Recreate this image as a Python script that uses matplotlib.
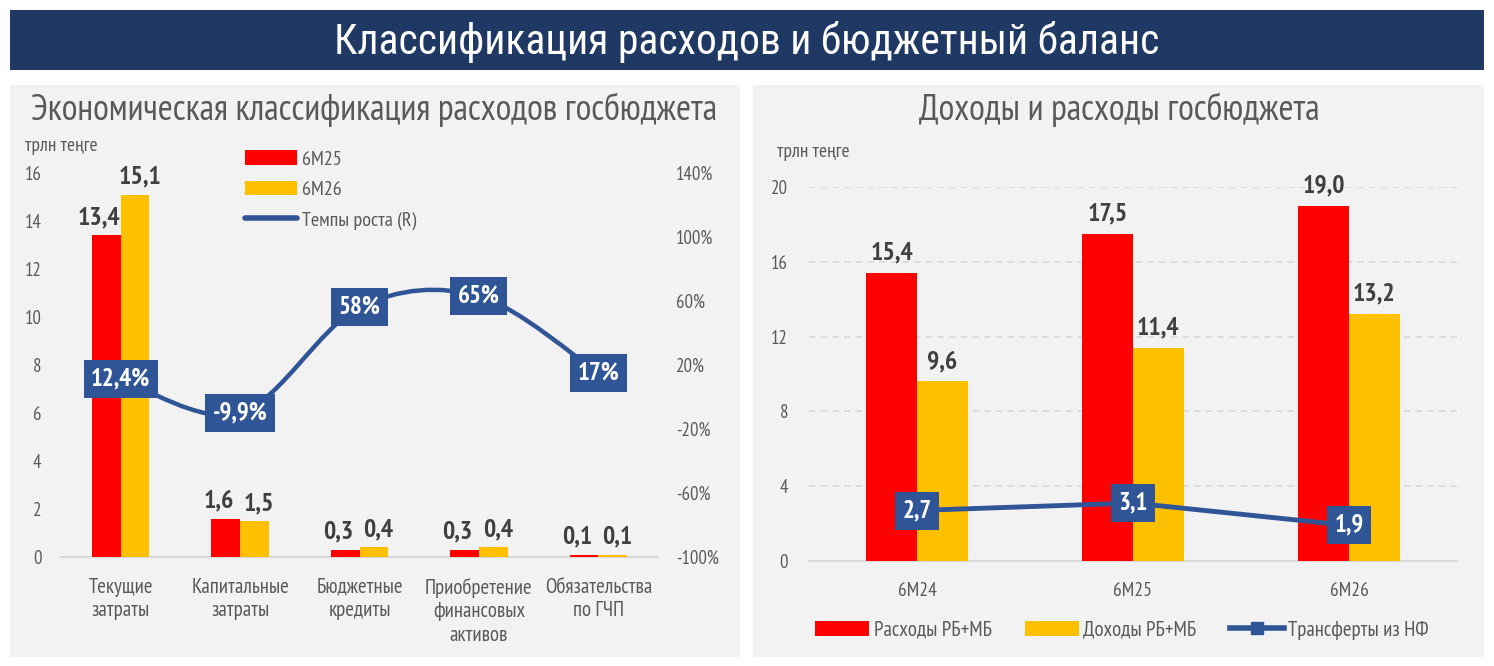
import numpy as np
import matplotlib
matplotlib.use("Agg")
import matplotlib.pyplot as plt
from matplotlib.patches import Rectangle, Patch, PathPatch
from matplotlib.lines import Line2D
from matplotlib.path import Path

plt.rcParams['font.family'] = ['PT Sans Narrow', 'DejaVu Sans']

# left chart data
cats_left = ['Текущие\nзатраты', 'Капитальные\nзатраты', 'Бюджетные\nкредиты',
             'Приобретение\nфинансовых\nактивов', 'Обязательства\nпо ГЧП']
vals_6m25 = [13.4, 1.6, 0.3, 0.3, 0.1]
vals_6m26 = [15.1, 1.5, 0.4, 0.4, 0.1]
growth_labels = ['12,4%', '-9,9%', '58%', '65%', '17%']
growth_pos = [11.2, -10.0, 56.0, 63.0, 15.0]   # where the labelled points sit on the right axis

# right chart data
cats_right = ['6М24', '6М25', '6М26']
expenses = [15.4, 17.5, 19.0]
revenues = [9.6, 11.4, 13.2]
transfers = [2.7, 3.1, 1.9]

RED = '#FF0000'
YEL = '#FFC000'
BLUE = '#2F5597'
NAVY = '#203864'
GRAY_TXT = '#595959'
DARK_TXT = '#404040'
PANEL = '#F2F2F2'

W, H = 1494, 666
fig = plt.figure(figsize=(W / 100, H / 100), dpi=100)
fig.patch.set_facecolor('white')


def px(x0, y0, x1, y1):
    return [x0 / W, 1 - y1 / H, (x1 - x0) / W, (y1 - y0) / H]


def fmt(v):
    return ('%.1f' % v).replace('.', ',')


# background blocks
for (x0, y0, w, h, c) in [(10, 10, 1474, 60, NAVY), (10, 85, 730, 572, PANEL), (753, 85, 731, 572, PANEL)]:
    fig.patches.append(Rectangle((x0 / W, 1 - (y0 + h) / H), w / W, h / H, transform=fig.transFigure,
                                 facecolor=c, edgecolor='none', zorder=-5))

fig.text(747 / W, 1 - 42 / H, 'Классификация расходов и бюджетный баланс', color='white',
         fontsize=30, ha='center', va='center', family=['Roboto Condensed', 'DejaVu Sans'])
fig.text(374 / W, 1 - 110 / H, 'Экономическая классификация расходов госбюджета', color=GRAY_TXT,
         fontsize=26, ha='center', va='center')
fig.text(1119 / W, 1 - 110 / H, 'Доходы и расходы госбюджета', color=GRAY_TXT,
         fontsize=26, ha='center', va='center')
fig.text(25 / W, 1 - 146 / H, 'трлн теңге', color=GRAY_TXT, fontsize=14, ha='left', va='center')
fig.text(777 / W, 1 - 152 / H, 'трлн теңге', color=GRAY_TXT, fontsize=14, ha='left', va='center')

# ---------- left chart ----------
ax = fig.add_axes(px(61, 173, 658, 557))
ax.set_facecolor('none')
x = np.arange(len(cats_left))
bw = 0.24
ax.bar(x - bw / 2, vals_6m25, bw, color=RED, zorder=3)
ax.bar(x + bw / 2, vals_6m26, bw, color=YEL, zorder=3)
for i in range(len(x)):
    ax.text(x[i] - bw / 2 - 0.06, vals_6m25[i] + 0.25, fmt(vals_6m25[i]), ha='center', va='bottom',
            fontsize=18.5, fontweight='bold', color=DARK_TXT)
    ax.text(x[i] + bw / 2 + 0.04, vals_6m26[i] + 0.25, fmt(vals_6m26[i]), ha='center', va='bottom',
            fontsize=18.5, fontweight='bold', color=DARK_TXT)
ax.set_xlim(-0.5, len(x) - 0.5)
ax.set_ylim(0, 16)
ax.set_yticks(range(0, 17, 2))
ax.set_xticks(x)
ax.set_xticklabels(cats_left, fontsize=15, color=GRAY_TXT, linespacing=1.3, va='top')
ax.tick_params(axis='both', length=0, labelsize=13.5, colors=GRAY_TXT)
ax.tick_params(axis='x', pad=15, labelsize=15)
ax.tick_params(axis='y', pad=14)
for s in ['top', 'right', 'left']:
    ax.spines[s].set_visible(False)
ax.spines['bottom'].set_color('#D9D9D9')
ax.spines['bottom'].set_linewidth(1.5)
ax.spines['bottom'].set_zorder(1)

ax2 = ax.twinx()
ax2.set_ylim(-100, 140)
ax2.set_yticks(range(-100, 141, 40))
ax2.set_yticklabels(['%d%%' % t for t in range(-100, 141, 40)])
ax2.tick_params(axis='y', length=0, labelsize=13.5, colors=GRAY_TXT, pad=13)
for s in ax2.spines.values():
    s.set_visible(False)

# smoothed growth line (Catmull-Rom bezier through the points)
pts = np.column_stack([x, growth_pos]).astype(float)
ext = np.vstack([pts[0], pts, pts[-1]])
verts = [tuple(pts[0])]
codes = [Path.MOVETO]
for i in range(len(pts) - 1):
    p0, p1, p2, p3 = ext[i], ext[i + 1], ext[i + 2], ext[i + 3]
    verts += [tuple(p1 + (p2 - p0) / 6), tuple(p2 - (p3 - p1) / 6), tuple(p2)]
    codes += [Path.CURVE4] * 3
ax2.add_patch(PathPatch(Path(verts, codes), facecolor='none', edgecolor=BLUE, lw=3.2, zorder=3))
for i in range(len(x)):
    ax2.text(x[i], growth_pos[i], growth_labels[i], ha='center', va='center', fontsize=18,
             fontweight='bold', color='white', zorder=5,
             bbox=dict(boxstyle='square,pad=0.3', facecolor=BLUE, edgecolor='none'))

handles = [Patch(facecolor=RED, label='6М25'), Patch(facecolor=YEL, label='6М26'),
           Line2D([0], [0], color=BLUE, lw=4, solid_capstyle='round', label='Темпы роста (R)')]
fig.legend(handles=handles, loc='upper left', bbox_to_anchor=(227 / W, 1 - 132 / H), frameon=False,
           fontsize=14.5, handlelength=2.6, handleheight=0.75, labelspacing=0.6, handletextpad=0.2,
           labelcolor=GRAY_TXT)

# ---------- right chart ----------
bx = fig.add_axes(px(809, 187, 1457, 561))
bx.set_facecolor('none')
xr = np.arange(len(cats_right))
bw2 = 0.235
bx.bar(xr - bw2 / 2, expenses, bw2, color=RED, zorder=2)
bx.bar(xr + bw2 / 2, revenues, bw2, color=YEL, zorder=2)
for i in range(len(xr)):
    bx.text(xr[i] - bw2 / 2, expenses[i] + 0.45, fmt(expenses[i]), ha='center', va='bottom',
            fontsize=18.5, fontweight='bold', color=DARK_TXT)
    bx.text(xr[i] + bw2 / 2, revenues[i] + 0.45, fmt(revenues[i]), ha='center', va='bottom',
            fontsize=18.5, fontweight='bold', color=DARK_TXT)
bx.plot(xr, transfers, color=BLUE, lw=3.5, marker='s', markersize=8, zorder=3)
for i in range(len(xr)):
    bx.text(xr[i], transfers[i], fmt(transfers[i]), ha='center', va='center', fontsize=18,
            fontweight='bold', color='white', zorder=5,
            bbox=dict(boxstyle='square,pad=0.3', facecolor=BLUE, edgecolor='none'))
bx.set_xlim(-0.5, 2.5)
bx.set_ylim(0, 20)
bx.set_yticks(range(0, 21, 4))
bx.set_xticks(xr)
bx.set_xticklabels(cats_right)
bx.yaxis.grid(True, color='#D9D9D9', linestyle=(0, (4, 3)), lw=1.2, zorder=0)
bx.tick_params(axis='both', length=0, labelsize=13.5, colors=GRAY_TXT)
bx.tick_params(axis='x', pad=15, labelsize=14)
bx.tick_params(axis='y', pad=15)
for s in ['top', 'right', 'left']:
    bx.spines[s].set_visible(False)
bx.spines['bottom'].set_color('#D9D9D9')
bx.spines['bottom'].set_linewidth(1.5)
bx.spines['bottom'].set_zorder(1)

handles_r = [Patch(facecolor=RED, label='Расходы РБ+МБ'), Patch(facecolor=YEL, label='Доходы РБ+МБ'),
             Line2D([0], [0], color=BLUE, lw=4, marker='s', markersize=8, label='Трансферты из НФ')]
fig.legend(handles=handles_r, loc='center', bbox_to_anchor=(1122 / W, 1 - 630 / H), ncol=3,
           frameon=False, fontsize=15, handlelength=2.6, handleheight=0.75, handletextpad=0.2,
           columnspacing=1.6, labelcolor=GRAY_TXT)

fig.savefig('out.png', dpi=100, facecolor='white')
